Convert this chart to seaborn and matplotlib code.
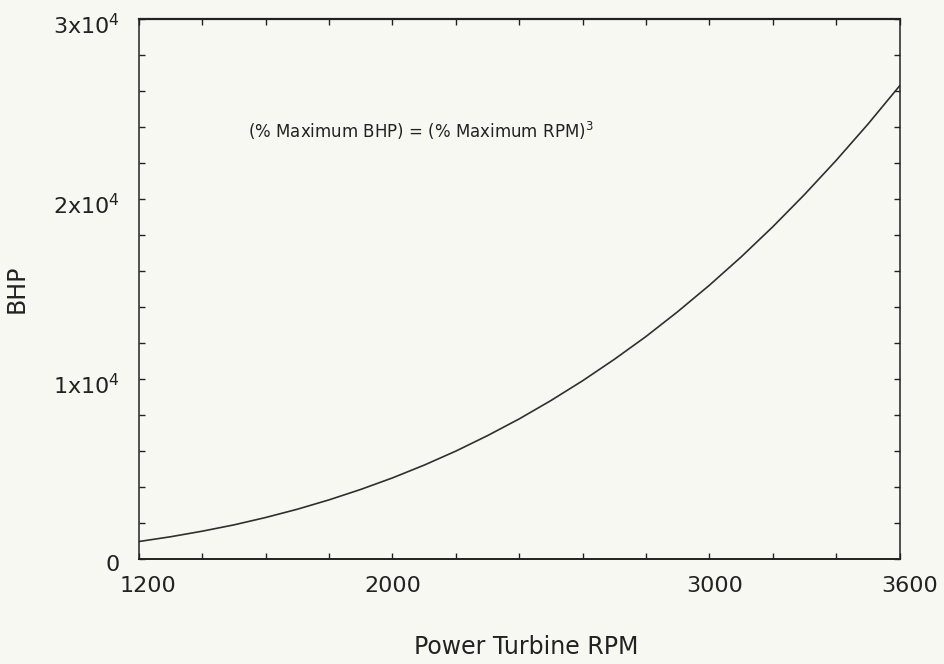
import matplotlib
matplotlib.use("Agg")
import matplotlib.pyplot as plt
import matplotlib.transforms as mtransforms
import seaborn as sns
import pandas as pd
from matplotlib.ticker import MultipleLocator

rpm = [1200, 1300, 1400, 1500, 1600, 1700, 1800, 1900, 2000, 2100, 2200, 2300, 2400,
       2500, 2600, 2700, 2800, 2900, 3000, 3100, 3200, 3300, 3400, 3500, 3600]
bhp = [975, 1240, 1550, 1900, 2310, 2770, 3290, 3870, 4510, 5220, 6000, 6860, 7790,
       8810, 9910, 11100, 12370, 13750, 15220, 16790, 18470, 20260, 22160, 24170, 26300]
x_ticks = [1200, 2000, 3000, 3600]
x_labels = ["1200", "2000", "3000", "3600"]
y_ticks = [0, 10000, 20000, 30000]
y_labels = ["0", r"1x10$^4$", r"2x10$^4$", r"3x10$^4$"]

sns.set_theme(style="white")
plt.rcParams['font.family'] = ['DejaVu Sans']
plt.rcParams['mathtext.fontset'] = 'dejavusans'

bg = '#f8f8f3'
ink = '#222222'
fig, ax = plt.subplots(figsize=(9.44, 6.64), dpi=100, facecolor=bg)
ax.set_facecolor(bg)
fig.subplots_adjust(left=0.147, right=0.953, top=0.971, bottom=0.158)

df = pd.DataFrame({"rpm": rpm, "bhp": bhp})
sns.lineplot(data=df, x="rpm", y="bhp", ax=ax, color="#2f2f2f", linewidth=1.2)

ax.set_xlim(1200, 3600)
ax.set_ylim(0, 30000)
ax.set_xticks(x_ticks)
ax.set_xticklabels(x_labels)
ax.set_yticks(y_ticks)
ax.set_yticklabels(y_labels)
ax.xaxis.set_minor_locator(MultipleLocator(200))
ax.yaxis.set_minor_locator(MultipleLocator(2000))
ax.tick_params(which='both', direction='in', top=True, right=True, bottom=True, left=True,
               colors=ink, labelcolor=ink)
ax.tick_params(which='major', length=4, width=1, labelsize=16)
ax.tick_params(axis='x', which='major', pad=12)
ax.tick_params(axis='y', which='major', pad=14)
ax.tick_params(which='minor', length=4, width=1)
for s in ax.spines.values():
    s.set_color(ink)
    s.set_linewidth(1.1)
ax.spines['top'].set_linewidth(1.6)
ax.spines['bottom'].set_linewidth(1.4)

# small scan offsets of tick labels
for lbl, dx in zip(ax.get_xticklabels(), [9, 0, 5, 10]):
    off = mtransforms.ScaledTranslation(dx / 100, 0, fig.dpi_scale_trans)
    lbl.set_transform(lbl.get_transform() + off)
yoff = mtransforms.ScaledTranslation(0, -4 / 100, fig.dpi_scale_trans)
for lbl in ax.get_yticklabels():
    lbl.set_transform(lbl.get_transform() + yoff)

ax.set_xlabel("Power Turbine RPM", fontsize=17, color=ink)
ax.xaxis.label.set_va('center')
ax.xaxis.set_label_coords(0.509, -0.163)
ax.set_ylabel("BHP", fontsize=17, color=ink)
ax.yaxis.set_label_coords(-0.145, 0.5)

ax.text(2090, 23800, r"(% Maximum BHP) = (% Maximum RPM)$^3$", fontsize=12,
        ha='center', va='center', color=ink)

fig.savefig("out.png", dpi=100, facecolor=bg)
